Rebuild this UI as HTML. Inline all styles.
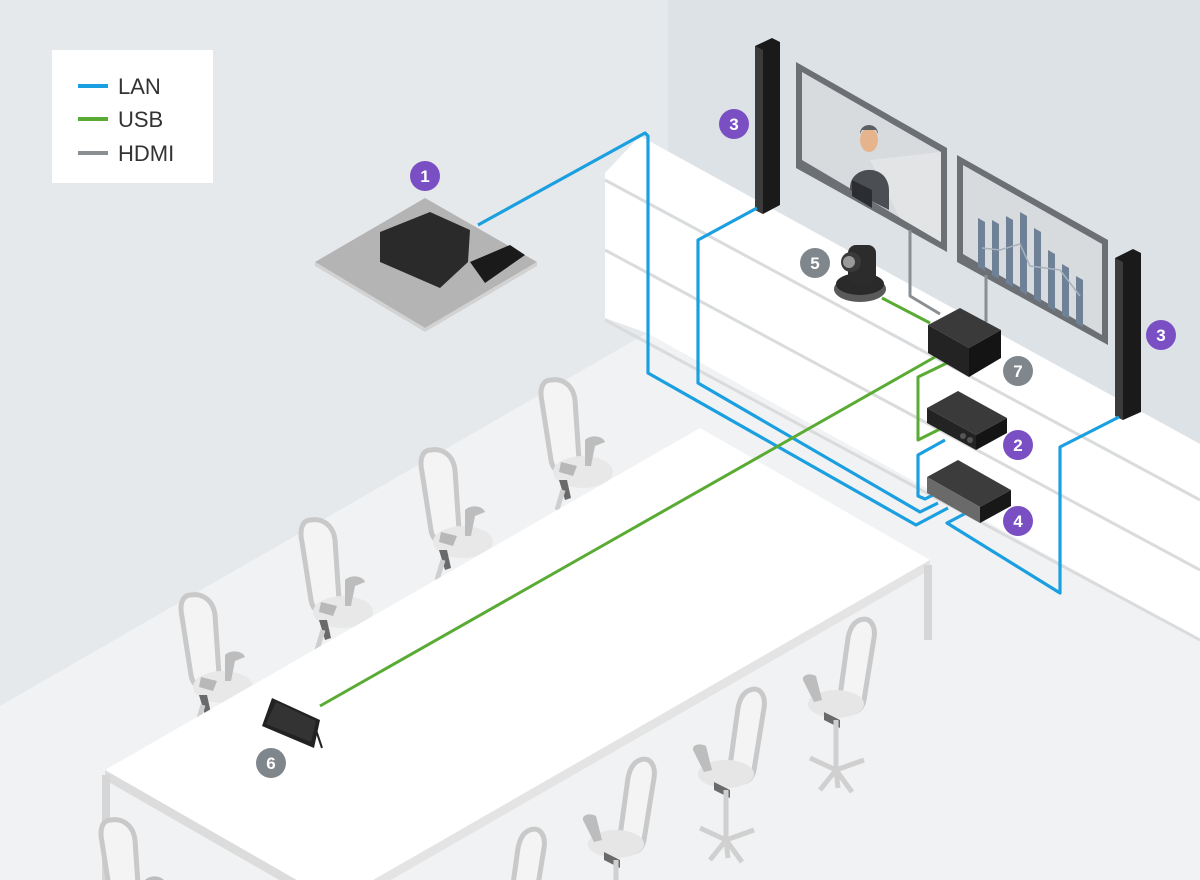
<!DOCTYPE html>
<html><head><meta charset="utf-8"><style>
html,body{margin:0;padding:0;background:#e6e9ec;width:1200px;height:880px;overflow:hidden;}
svg{display:block;}
text{font-family:"Liberation Sans",sans-serif;}
</style></head><body>
<svg width="1200" height="880" viewBox="0 0 1200 880" xmlns="http://www.w3.org/2000/svg">
<defs>
<g id="chairB">
 <path d="M6,0 C-2,0 -6,8 -3,22 L6,80 C8,92 18,96 26,90 L34,80 L30,20 C28,4 16,-2 6,0 Z" fill="#f4f4f4" stroke="#c9c9c9" stroke-width="5"/>
 <ellipse cx="38" cy="92" rx="30" ry="16" fill="#e8e8e8"/>
 <path d="M16,82 L32,86 L28,96 L14,92Z" fill="#b8b8b8"/>
 <path d="M40,60 C46,54 58,56 60,62 L50,66 L46,86 L40,86 Z" fill="#bdbdbd"/>
 <path d="M14,100 L20,120 L26,118 L22,100Z" fill="#6a6a6a"/>
 <path d="M18,110 L12,130" stroke="#cfcfcf" stroke-width="5"/>
</g>
<g id="chairF">
 <path d="M60,0 C70,-4 76,6 74,18 L64,80 C62,92 50,96 44,88 L40,76 L48,18 C50,8 54,2 60,0 Z" fill="#f4f4f4" stroke="#c9c9c9" stroke-width="5"/>
 <ellipse cx="36" cy="84" rx="28" ry="14" fill="#e6e6e6"/>
 <path d="M4,62 C0,56 8,52 16,56 L22,80 L14,82 Z" fill="#bdbdbd"/>
 <path d="M24,92 L40,100 L40,108 L24,100Z" fill="#6a6a6a"/>
 <path d="M36,100 L36,150 M36,150 L10,138 M36,150 L64,140 M36,150 L20,170 M36,150 L52,172 M36,150 L38,168" stroke="#d0d0d0" stroke-width="5" fill="none"/>
</g>
</defs>

<rect width="1200" height="880" fill="#e6e9ec"/>
<polygon points="668,0 1200,0 1200,444 668,221" fill="#dde2e6"/>
<polygon points="0,706 647,333 1200,640 1200,880 0,880" fill="#f1f2f3"/>
<polygon points="605,173 640,136 1200,444 1200,640 647,333 605,318" fill="#ffffff"/>
<g stroke="#d9dbdd" stroke-width="3" fill="none">
<line x1="605" y1="180" x2="1200" y2="500"/>
<line x1="605" y1="250" x2="1200" y2="570"/>
<line x1="605" y1="320" x2="1200" y2="640"/>
</g>

<use href="#chairB" x="545" y="380"/>
<use href="#chairB" x="425" y="450"/>
<use href="#chairB" x="305" y="520"/>
<use href="#chairB" x="185" y="595"/>

<polygon points="105,770 700,428 930,560 335,902" fill="#ffffff"/>
<polygon points="105,770 335,902 335,912 105,780" fill="#dcdcdc"/>
<polygon points="930,560 335,902 335,912 930,570" fill="#e4e4e4"/>
<rect x="924" y="565" width="8" height="75" fill="#d6d6d6"/>
<rect x="102" y="775" width="8" height="105" fill="#d6d6d6"/>

<use href="#chairF" x="800" y="620"/>
<use href="#chairF" x="690" y="690"/>
<use href="#chairF" x="580" y="760"/>
<use href="#chairF" x="470" y="830"/>
<use href="#chairB" x="105" y="820"/>

<rect x="52" y="50" width="161" height="133" fill="#ffffff"/>
<line x1="78" y1="86" x2="108" y2="86" stroke="#1a9fe0" stroke-width="4"/>
<line x1="78" y1="119" x2="108" y2="119" stroke="#5aab33" stroke-width="4"/>
<line x1="78" y1="153" x2="108" y2="153" stroke="#8a8f94" stroke-width="4"/>
<text x="118" y="94" font-size="22" fill="#333">LAN</text>
<text x="118" y="127" font-size="22" fill="#333">USB</text>
<text x="118" y="161" font-size="22" fill="#333">HDMI</text>

<polygon points="315,262 425,198 537,262 425,328" fill="#b4b4b4"/>
<polygon points="315,262 425,328 537,262 537,266 425,332 315,266" fill="#d2d2d2"/>
<polygon points="380,232 430,212 470,230 468,262 440,288 380,262" fill="#2a2a2a"/>
<polygon points="470,262 510,245 525,255 485,283" fill="#1a1a1a"/>

<polygon points="796,62 947,148 947,252 796,168" fill="#6c6f73"/>
<polygon points="802,72 941,152 941,242 802,160" fill="#d8dbde"/>
<polygon points="870,160 941,152 941,242 900,218" fill="#e2e4e6"/>
<ellipse cx="869" cy="140" rx="9" ry="12" fill="#e5b48c"/>
<path d="M860,134 C860,122 878,122 878,134 L876,130 L862,130Z" fill="#5c5f63"/>
<path d="M850,188 C850,165 888,162 889,190 L889,210 L850,190Z" fill="#4b4f54"/>
<polygon points="852,180 872,190 872,208 852,196" fill="#2b2d30"/>
<polygon points="957,155 1108,240 1108,345 957,262" fill="#6c6f73"/>
<polygon points="963,165 1102,244 1102,335 963,254" fill="#d8dbde"/>
<g fill="#6f8196">
<polygon points="978,218 985,222 985,271 978,267"/><polygon points="992,220 999,224 999,279 992,275"/>
<polygon points="1006,216 1013,220 1013,287 1006,283"/><polygon points="1020,212 1027,216 1027,295 1020,291"/>
<polygon points="1034,228 1041,232 1041,303 1034,299"/><polygon points="1048,250 1055,254 1055,311 1048,307"/>
<polygon points="1062,264 1069,268 1069,319 1062,315"/><polygon points="1076,276 1083,280 1083,327 1076,323"/>
</g>
<polyline points="982,248 1000,250 1020,244 1030,266 1060,270 1080,296" stroke="#a8b2bd" stroke-width="1.5" fill="none"/>

<polygon points="755,46 772,38 780,42 780,205 763,214 755,210" fill="#1a1a1a"/>
<polygon points="755,46 763,50 763,214 755,210" fill="#3b3b3b"/>
<polygon points="1115,258 1133,249 1141,253 1141,412 1123,420 1115,416" fill="#1a1a1a"/>
<polygon points="1115,258 1123,262 1123,420 1115,416" fill="#3b3b3b"/>

<g stroke="#8a8f94" stroke-width="3" fill="none" stroke-linejoin="round">
<polyline points="910,230 910,296 940,314"/>
<polyline points="986,275 986,322"/>
</g>
<g stroke="#1a9fe0" stroke-width="3.2" fill="none" stroke-linejoin="round">
<polyline points="478,225 645,133 648,136 648,373 916,525 948,508"/>
<polyline points="757,208 698,240 698,383 920,512 938,503"/>
<polyline points="945,440 918,455 918,496 925,499 935,494"/>
<polyline points="968,512 947,523 1060,593 1060,447 1119,417"/>
</g>
<g stroke="#5aab33" stroke-width="3" fill="none" stroke-linejoin="round">
<polyline points="882,298 930,323"/>
<polyline points="935,357 320,706"/>
<polyline points="947,363 918,377 918,440 942,428"/>
</g>

<ellipse cx="860" cy="289" rx="26" ry="13" fill="#5a5a5a"/>
<ellipse cx="860" cy="284" rx="24" ry="11" fill="#2a2a2a"/>
<rect x="848" y="245" width="28" height="38" rx="8" fill="#2c2c2c"/>
<circle cx="851" cy="262" r="10" fill="#3a3a3a"/>
<circle cx="849" cy="262" r="6" fill="#9a9a9a"/>

<polygon points="928,325 960,308 1001,330 969,348" fill="#3a3a3a"/>
<polygon points="928,325 969,348 969,377 928,353" fill="#232323"/>
<polygon points="969,348 1001,330 1001,358 969,377" fill="#141414"/>
<polygon points="927,408 958,391 1007,418 976,435" fill="#3a3a3a"/>
<polygon points="927,408 976,435 976,450 927,423" fill="#232323"/>
<polygon points="976,435 1007,418 1007,433 976,450" fill="#141414"/>
<circle cx="963" cy="436" r="3" fill="#555"/><circle cx="970" cy="440" r="3" fill="#555"/>
<polygon points="927,477 958,460 1011,490 980,507" fill="#3c3c3c"/>
<polygon points="927,477 980,507 980,523 927,493" fill="#6a6a6a"/>
<polygon points="980,507 1011,490 1011,506 980,523" fill="#181818"/>

<polygon points="272,698 320,720 314,748 262,726" fill="#222"/>
<polygon points="276,702 316,721 311,742 266,724" fill="#333"/>
<line x1="316" y1="730" x2="322" y2="748" stroke="#222" stroke-width="2"/>

<g font-size="17" font-weight="bold" fill="#fff" text-anchor="middle">
<circle cx="425" cy="176" r="15" fill="#7b4fc4"/><text x="425" y="182">1</text>
<circle cx="734" cy="124" r="15" fill="#7b4fc4"/><text x="734" y="130">3</text>
<circle cx="1161" cy="335" r="15" fill="#7b4fc4"/><text x="1161" y="341">3</text>
<circle cx="815" cy="263" r="15" fill="#7f878d"/><text x="815" y="269">5</text>
<circle cx="1018" cy="371" r="15" fill="#7f878d"/><text x="1018" y="377">7</text>
<circle cx="1018" cy="445" r="15" fill="#7b4fc4"/><text x="1018" y="451">2</text>
<circle cx="1018" cy="521" r="15" fill="#7b4fc4"/><text x="1018" y="527">4</text>
<circle cx="271" cy="763" r="15" fill="#7f878d"/><text x="271" y="769">6</text>
</g>
</svg>
</body></html>
